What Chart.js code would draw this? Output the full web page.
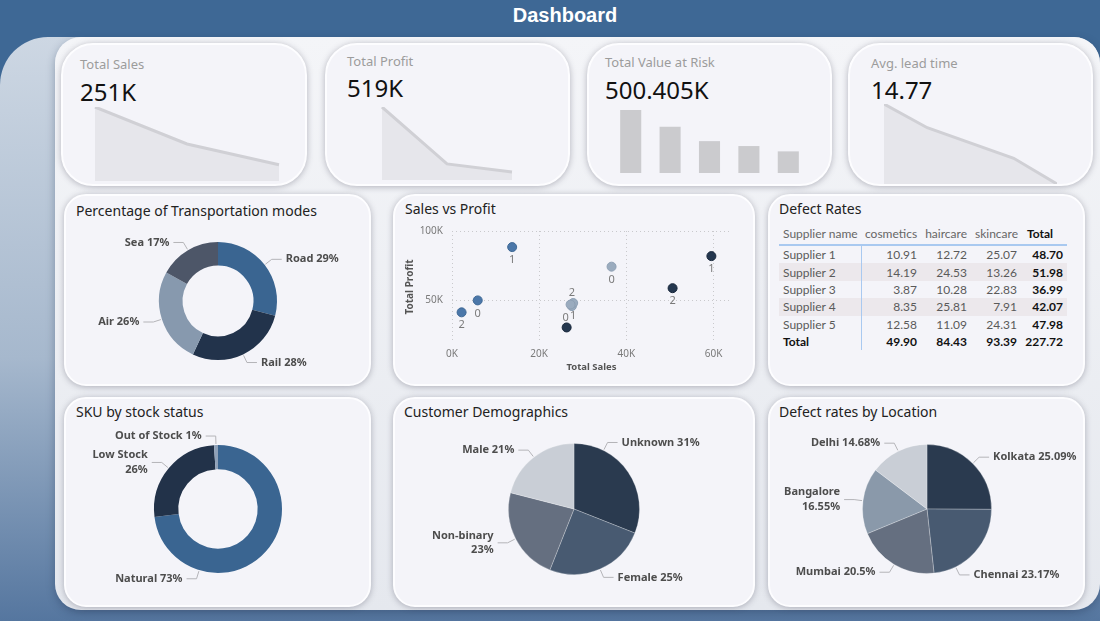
<!DOCTYPE html>
<html>
<head>
<meta charset="utf-8">
<script src="https://cdn.jsdelivr.net/npm/chart.js@4.4.1/dist/chart.umd.min.js"></script>
<style>
  body { margin: 0; width: 1100px; height: 621px; overflow: hidden; background: #3e6895; position: relative; font-family: "Noto Sans", sans-serif; }
  .abs { position: absolute; }
  h1 { position: absolute; left: 0; top: 4px; width: 1130px; margin: 0; text-align: center; color: #fff; font: bold 20px "Liberation Sans", Arial, sans-serif; }
  .strip { left: 0; top: 37px; width: 1100px; height: 584px; border-radius: 48px 26px 0 0; background: linear-gradient(to bottom, #cdd7e3 0%, #a6b8cd 55%, #55769f 100%); }
  .panel { left: 55px; top: 37px; width: 1045px; height: 573px; border-radius: 26px; background: linear-gradient(to bottom, #f4f5f8, #e5e8ee); box-shadow: 0 3px 8px rgba(30, 50, 80, 0.35); }
  .card { box-sizing: border-box; background: #f4f4f9; border: 2px solid #fdfdff; box-shadow: 0 1px 6px rgba(60, 60, 80, 0.35); }
  .kpi { border-radius: 32px; top: 43px; height: 143px; }
  .box { border-radius: 22px; }
  .lbl { font-size: 13px; color: #9c9c9c; line-height: 16px; white-space: nowrap; }
  .val { font-size: 24px; color: #111; line-height: 28px; white-space: nowrap; }
  .ttl { font-size: 14px; color: #222; line-height: 20px; white-space: nowrap; }
  canvas { position: absolute; }
  table { position: absolute; left: 779px; top: 222px; width: 288px; border-collapse: collapse; table-layout: fixed; font-family: Lato, sans-serif; font-size: 12px; }
  th { height: 22px; padding: 0 4px; font-weight: normal; color: #666; border-bottom: 2px solid #a9c9f0; white-space: nowrap; text-align: left; }
  th.n, td.n { text-align: right; }
  th.t { font-weight: bold; color: #111; padding-left: 6px; }
  td { height: 17.4px; padding: 0 4px; line-height: 17px; color: #5a5a5a; white-space: nowrap; }
  td:first-child { border-right: 1.5px solid #a9c9f0; }
  td.b, tr.tot td { font-weight: bold; color: #111; }
  tr.alt td { background: #ece8ec; }
</style>
</head>
<body>
<h1>Dashboard</h1>
<div class="abs strip"></div>
<div class="abs panel"></div>

<div class="abs card kpi" style="left:61px;width:246px"></div>
<div class="abs card kpi" style="left:325px;width:245px"></div>
<div class="abs card kpi" style="left:587px;width:245px"></div>
<div class="abs card kpi" style="left:848px;width:245px"></div>

<div class="abs card box" style="left:64px;top:194px;width:307px;height:192px"></div>
<div class="abs card box" style="left:393px;top:194px;width:362px;height:192px"></div>
<div class="abs card box" style="left:768px;top:194px;width:317px;height:192px"></div>
<div class="abs card box" style="left:64px;top:397px;width:307px;height:210px"></div>
<div class="abs card box" style="left:393px;top:397px;width:362px;height:210px"></div>
<div class="abs card box" style="left:768px;top:397px;width:317px;height:210px"></div>

<div id="kpis"></div>

<div class="abs ttl" style="left:76px;top:201px">Percentage of Transportation modes</div>
<div class="abs ttl" style="left:405px;top:199px">Sales vs Profit</div>
<div class="abs ttl" style="left:779px;top:199px">Defect Rates</div>
<div class="abs ttl" style="left:76px;top:402px">SKU by stock status</div>
<div class="abs ttl" style="left:404px;top:402px">Customer Demographics</div>
<div class="abs ttl" style="left:779px;top:402px">Defect rates by Location</div>

<canvas id="salesSpark" width="188" height="77" style="left:93px;top:104px"></canvas>
<canvas id="profitSpark" width="134" height="76" style="left:380px;top:104px"></canvas>
<canvas id="riskBars" width="197" height="63" style="left:611px;top:110px"></canvas>
<canvas id="leadSpark" width="177" height="84" style="left:882px;top:101px"></canvas>

<canvas id="transport" width="304" height="170" style="left:66px;top:216px"></canvas>
<canvas id="scatter" width="340" height="166" style="left:400px;top:216px"></canvas>
<table id="defects"></table>
<canvas id="sku" width="304" height="196" style="left:66px;top:411px"></canvas>
<canvas id="customers" width="356" height="196" style="left:396px;top:411px"></canvas>
<canvas id="locations" width="312" height="196" style="left:771px;top:411px"></canvas>

<script>
// ---------- data ----------
const kpiNames = ["Total Sales", "Total Profit", "Total Value at Risk", "Avg. lead time"];
const kpiValues = ["251K", "519K", "500.405K", "14.77"];
const salesTrend = [146, 73, 32];
const profitTrend = [390, 86, 43];
const riskBars = [166, 122, 84, 71, 57];
const leadX = [1, 2, 4, 5];
const leadTrend = [20.5, 18.1, 15.0, 12.4];

const transportModes = ["Road", "Rail", "Air", "Sea"];
const transportShare = [29, 28, 26, 17];

const blueSales = [13800, 5900, 2200];
const blueProfit = [88400, 50000, 41400];
const blueTags = ["1", "0", "2"];
const greySales = [36600, 27500, 27800, 27200];
const greyProfit = [74300, 45900, 48100, 47000];
const greyTags = ["0", "2", "1", "0"];
const navySales = [59500, 50600, 26300];
const navyProfit = [81900, 58800, 30500];
const navyTags = ["1", "2", ""];
const salesTicks = [0, 20000, 40000, 60000];
const profitTicks = [50000, 100000];

const suppliers = ["Supplier 1", "Supplier 2", "Supplier 3", "Supplier 4", "Supplier 5"];
const cosmetics = [10.91, 14.19, 3.87, 8.35, 12.58];
const haircare = [12.72, 24.53, 10.28, 25.81, 11.09];
const skincare = [25.07, 13.26, 22.83, 7.91, 24.31];
const supplierTotals = [48.70, 51.98, 36.99, 42.07, 47.98];
const typeTotals = [49.90, 84.43, 93.39];
const grandTotal = 227.72;

const stockStatus = ["Natural", "Low Stock", "Out of Stock"];
const stockShare = [73, 26, 1];

const genders = ["Unknown", "Female", "Non-binary", "Male"];
const genderShare = [31, 25, 23, 21];

const locations = ["Kolkata", "Chennai", "Mumbai", "Bangalore", "Delhi"];
const locationShare = [25.09, 23.17, 20.5, 16.55, 14.68];

Chart.defaults.font.family = '"Noto Sans", sans-serif';
Chart.defaults.animation = false;
Chart.defaults.responsive = false;

// ---------- KPI cards ----------
const kpiPos = [[80, 56, 78], [347, 53, 74], [605, 54, 76], [871, 55, 76]];
let kh = "";
kpiNames.forEach((n, i) => {
  const p = kpiPos[i];
  kh += `<div class="abs lbl" style="left:${p[0]}px;top:${p[1]}px">${n}</div>`;
  kh += `<div class="abs val" style="left:${p[0]}px;top:${p[2]}px">${kpiValues[i]}</div>`;
});
document.getElementById("kpis").innerHTML = kh;

const hidden = { display: false };
const noPlugins = { legend: { display: false }, tooltip: { enabled: false } };

function spark(id, labels, values, min, max) {
  new Chart(document.getElementById(id), {
    type: "line",
    data: {
      labels: labels,
      datasets: [{ data: values, borderColor: "#d0d0d5", borderWidth: 3, backgroundColor: "#e6e6eb", fill: "start", pointRadius: 0, tension: 0 }],
    },
    options: {
      layout: { padding: { left: 2, right: 2, top: 3, bottom: 0 } },
      plugins: noPlugins,
      scales: { x: hidden, y: { display: false, min: min, max: max } },
    },
  });
}

spark("salesSpark", salesTrend.map((v, i) => i), salesTrend, 0, 146);
spark("profitSpark", profitTrend.map((v, i) => i), profitTrend, 0, 390);

new Chart(document.getElementById("riskBars"), {
  type: "bar",
  data: {
    labels: riskBars.map((v, i) => i),
    datasets: [{ data: riskBars, backgroundColor: "#cbcbce", barPercentage: 0.535, categoryPercentage: 1 }],
  },
  options: {
    plugins: noPlugins,
    scales: { x: hidden, y: { display: false, min: 0, max: 166 } },
  },
});

new Chart(document.getElementById("leadSpark"), {
  type: "line",
  data: {
    datasets: [{
      data: leadX.map((x, i) => ({ x: x, y: leadTrend[i] })),
      borderColor: "#d0d0d5", borderWidth: 3, backgroundColor: "#e6e6eb", fill: "start", pointRadius: 0, tension: 0,
    }],
  },
  options: {
    layout: { padding: { left: 2, right: 2, top: 3, bottom: 1 } },
    plugins: noPlugins,
    scales: { x: { type: "linear", display: false, min: 1, max: 5 }, y: { display: false, min: 12.4, max: 20.5 } },
  },
});

// ---------- pie / donut labels ----------
function sliceLabels(cfg) {
  return {
    id: "sliceLabels",
    afterDatasetsDraw(chart) {
      const ctx = chart.ctx;
      const arcs = chart.getDatasetMeta(0).data;
      const names = chart.data.labels;
      const vals = chart.data.datasets[0].data;
      ctx.save();
      ctx.font = 'bold 11px "Noto Sans", sans-serif';
      ctx.textBaseline = "middle";
      arcs.forEach((a, i) => {
        const f = cfg.anchors[i] !== undefined ? cfg.anchors[i] : 0.5;
        const ang = a.startAngle + (a.endAngle - a.startAngle) * f;
        const c = Math.cos(ang), s = Math.sin(ang);
        const r = a.outerRadius;
        const ex = a.x + c * (r + 9), ey = a.y + s * (r + 9);
        const dir = c >= 0 ? 1 : -1;
        ctx.strokeStyle = "#b4b4b8";
        ctx.lineWidth = 1;
        ctx.beginPath();
        ctx.moveTo(a.x + c * (r + 1), a.y + s * (r + 1));
        ctx.lineTo(ex, ey);
        ctx.lineTo(ex + dir * 10, ey);
        ctx.stroke();
        const lines = cfg.wrap.includes(i) ? [names[i], vals[i] + "%"] : [names[i] + " " + vals[i] + "%"];
        ctx.fillStyle = "#4d4d4d";
        ctx.textAlign = dir > 0 ? "left" : "right";
        lines.forEach((t, k) => ctx.fillText(t, ex + dir * 14, ey + (k - (lines.length - 1) / 2) * 14.5));
      });
      ctx.restore();
    },
  };
}

function ring(id, type, names, values, colors, cutout, pad, cfg) {
  new Chart(document.getElementById(id), {
    type: type,
    data: { labels: names, datasets: [{ data: values, backgroundColor: colors, borderWidth: type === "pie" ? 1 : 0, borderColor: "rgba(255,255,255,0.25)" }] },
    options: { cutout: cutout, layout: { padding: pad }, plugins: noPlugins },
    plugins: [sliceLabels(cfg)],
  });
}

ring("transport", "doughnut", transportModes, transportShare, ["#3a6591", "#22334b", "#8799ae", "#4d5668"], "60%",
  { left: 93, right: 93, top: 26, bottom: 26 }, { anchors: {}, wrap: [] });
ring("sku", "doughnut", stockStatus, stockShare, ["#3a6591", "#223249", "#8fa1b8"], "62%",
  { left: 88, right: 88, top: 34, bottom: 34 }, { anchors: { 0: 0.75 }, wrap: [1] });
ring("customers", "pie", genders, genderShare, ["#2a3a4f", "#485a71", "#656f80", "#c9ced6"], 0,
  { left: 112, right: 112, top: 32, bottom: 32 }, { anchors: { 0: 0.24 }, wrap: [2] });
ring("locations", "pie", locations, locationShare, ["#2a3a4f", "#485a71", "#656f80", "#8a99aa", "#c9ced6"], 0,
  { left: 91, right: 91, top: 33, bottom: 33 }, { anchors: { 1: 0.76 }, wrap: [3] });

// ---------- scatter ----------
const tagAbove = ["1-1"];
const tagShift = { "1-3": -5 };
const pointTags = {
  id: "pointTags",
  afterDatasetsDraw(chart) {
    const ctx = chart.ctx;
    ctx.save();
    ctx.font = '11px "Noto Sans", sans-serif';
    ctx.fillStyle = "#7a7a7a";
    ctx.textAlign = "center";
    ctx.textBaseline = "middle";
    chart.data.datasets.forEach((ds, d) => {
      chart.getDatasetMeta(d).data.forEach((pt, i) => {
        const t = ds.tags[i];
        if (!t) return;
        const key = d + "-" + i;
        ctx.fillText(t, pt.x + (tagShift[key] || 0), pt.y + (tagAbove.includes(key) ? -13 : 13));
      });
    });
    ctx.restore();
  },
};

function pts(xs, ys) {
  return xs.map((x, i) => ({ x: x, y: ys[i] }));
}

new Chart(document.getElementById("scatter"), {
  type: "scatter",
  data: {
    datasets: [
      { data: pts(blueSales, blueProfit), tags: blueTags, backgroundColor: "#4b77a9", borderColor: "#3e6895", borderWidth: 1, pointRadius: 4.5 },
      { data: pts(greySales, greyProfit), tags: greyTags, backgroundColor: "#9aabbe", borderColor: "#8d9fb3", borderWidth: 1, pointRadius: 4.5 },
      { data: pts(navySales, navyProfit), tags: navyTags, backgroundColor: "#24374f", borderColor: "#17263a", borderWidth: 1, pointRadius: 4.5 },
    ],
  },
  options: {
    layout: { padding: { left: 0, right: 9, top: 8, bottom: 0 } },
    plugins: noPlugins,
    scales: {
      x: {
        type: "linear", min: 0, max: 64000,
        afterBuildTicks: (s) => { s.ticks = salesTicks.map((v) => ({ value: v })); },
        afterFit: (s) => { s.height = 39; },
        grid: { color: "#c9c9cc", drawTicks: false },
        border: { display: false, dash: [1, 3] },
        ticks: { callback: (v) => v / 1000 + "K", color: "#7a7a7a", font: { size: 10 }, padding: 5 },
        title: { display: true, text: "Total Sales", color: "#555", font: { size: 9.5, weight: "bold" }, padding: { top: 0, bottom: 9 } },
      },
      y: {
        min: 19300, max: 100000,
        afterBuildTicks: (s) => { s.ticks = profitTicks.map((v) => ({ value: v })); },
        afterFit: (s) => { s.width = 52; },
        grid: { color: "#c9c9cc", drawTicks: false },
        border: { display: false, dash: [1, 3] },
        ticks: { callback: (v) => v / 1000 + "K", color: "#7a7a7a", font: { size: 10 }, padding: 9 },
        title: { display: true, text: "Total Profit", color: "#555", font: { size: 10, weight: "bold" }, padding: { top: 4, bottom: 4 } },
      },
    },
  },
  plugins: [pointTags],
});

// ---------- defect table ----------
let th = '<colgroup><col style="width:82px"><col style="width:60px"><col style="width:50px"><col style="width:50px"><col style="width:46px"></colgroup>';
th += '<tr><th>Supplier name</th><th class="n">cosmetics</th><th class="n">haircare</th><th class="n">skincare</th><th class="t">Total</th></tr>';
suppliers.forEach((s, i) => {
  th += `<tr class="${i % 2 ? "alt" : ""}"><td>${s}</td><td class="n">${cosmetics[i].toFixed(2)}</td><td class="n">${haircare[i].toFixed(2)}</td>` +
    `<td class="n">${skincare[i].toFixed(2)}</td><td class="n b">${supplierTotals[i].toFixed(2)}</td></tr>`;
});
th += `<tr class="tot"><td>Total</td>${typeTotals.map((v) => `<td class="n">${v.toFixed(2)}</td>`).join("")}<td class="n">${grandTotal.toFixed(2)}</td></tr>`;
document.getElementById("defects").innerHTML = th;
</script>
</body>
</html>
